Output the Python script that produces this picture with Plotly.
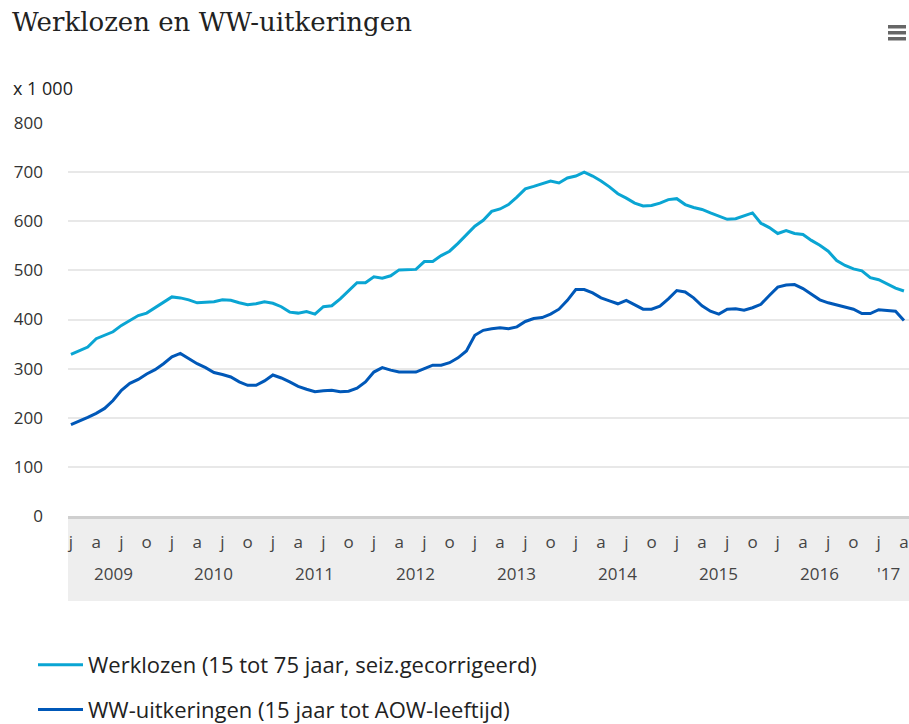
import plotly.graph_objects as go

# ---------------- data ----------------
start_year = 2009
n_months = 100  # Jan 2009 .. Apr 2017
month_letters = ["j", "a", "j", "o"]          # quarterly tick letters (jan, apr, jul, okt)
year_labels = ["2009", "2010", "2011", "2012", "2013", "2014", "2015", "2016", "'17"]

werklozen = [329, 336, 344, 361, 368, 375, 388, 398, 408, 413, 424, 436,
             446, 444, 440, 434, 435, 436, 440, 439, 434, 430, 432, 436,
             433, 426, 415, 413, 416, 411, 426, 428, 442, 459, 475, 475,
             487, 484, 489, 501, 502, 502, 518, 518, 530, 539, 555, 573,
             590, 602, 620, 625, 634, 649, 666, 671, 676, 682, 678, 688,
             692, 700, 692, 682, 670, 656, 647, 637, 631, 632, 637, 644,
             646, 634, 628, 624, 617, 611, 604, 605, 611, 617, 596, 587,
             575, 581, 575, 573, 561, 551, 539, 520, 510, 503, 499, 485,
             481, 473, 464, 458]

ww_uitkeringen = [186, 193, 201, 209, 219, 235, 256, 270, 278, 289, 298, 310,
                  324, 331, 321, 310, 302, 292, 288, 283, 273, 266, 266, 275,
                  287, 281, 273, 264, 258, 253, 255, 256, 253, 254, 260, 273,
                  293, 302, 297, 293, 293, 293, 300, 307, 307, 312, 322, 336,
                  368, 378, 381, 383, 381, 385, 396, 402, 404, 411, 421, 439,
                  461, 461, 454, 444, 438, 432, 439, 430, 421, 421, 427, 442,
                  459, 456, 444, 428, 417, 411, 421, 422, 419, 424, 431, 449,
                  466, 470, 471, 463, 451, 440, 434, 430, 426, 421, 412, 412,
                  420, 419, 417, 398]

series_names = ["Werklozen (15 tot 75 jaar, seiz.gecorrigeerd)",
                "WW-uitkeringen (15 jaar tot AOW-leeftijd)"]
series_colors = ["#0aa5d3", "#0058b8"]

months = list(range(n_months))
tick_vals = months[::3]
tick_text = [month_letters[i % 4] for i in range(len(tick_vals))]

# ---------------- layout helpers (pixel -> paper / container) ----------------
W, H = 909, 724
PL, PR, PT, PB = 68, 909, 123, 516


def px(x):
    return (x - PL) / (PR - PL)


def py(y):
    return (PB - y) / (PB - PT)


fig = go.Figure()
for name, vals, col, grp in zip(series_names, [werklozen, ww_uitkeringen], series_colors, ["a", "b"]):
    fig.add_trace(go.Scatter(x=months, y=vals, mode="lines", name=name,
                             legendgroup=grp,
                             line=dict(color=col, width=3), hoverinfo="x+y"))

shapes = [
    dict(type="rect", xref="paper", yref="paper", x0=0, x1=1, y0=py(601), y1=py(516),
         fillcolor="#eeeeee", line=dict(width=0), layer="below"),
]
# hamburger menu icon
for yy in (25, 31, 37):
    shapes.append(dict(type="rect", xref="paper", yref="paper",
                       x0=px(888), x1=px(906), y0=py(yy + 3.5), y1=py(yy),
                       fillcolor="#666666", line=dict(width=0)))

annotations = [
    dict(text="x 1 000", xref="paper", yref="paper", x=px(11), y=py(88),
         xanchor="left", yanchor="middle", showarrow=False,
         font=dict(family="Open Sans", size=18, color="#222222")),
]
# year labels under the month letters
for i, lab in enumerate(year_labels):
    xpos = 12 * i + 5 if i < len(year_labels) - 1 else 97.2
    annotations.append(dict(text=lab, xref="x", yref="paper", x=xpos, y=py(573),
                            xanchor="center", yanchor="middle", showarrow=False,
                            font=dict(family="Open Sans", size=17, color="#444444")))

fig.update_layout(
    width=W, height=H,
    margin=dict(l=PL, r=W - PR, t=PT, b=H - PB, autoexpand=False),
    paper_bgcolor="white", plot_bgcolor="white",
    title=dict(text="Werklozen en WW-uitkeringen", x=12 / W, xanchor="left", xref="container",
               y=1 - 22 / H, yanchor="middle", yref="container",
               font=dict(family="DejaVu Serif", size=26, color="#222222")),
    xaxis=dict(range=[-0.35, 99.6], tickvals=tick_vals, ticktext=tick_text,
               showgrid=False, zeroline=False, showline=True, linecolor="#cfcfcf", linewidth=3,
               ticks="", ticklabelstandoff=9, ticklabeloverflow="allow",
               tickfont=dict(family="Open Sans", size=17, color="#444444"), fixedrange=True),
    yaxis=dict(range=[0, 800], dtick=100, showgrid=True, gridcolor="#e8e8e8", gridwidth=2,
               zeroline=False, ticks="", ticklabelstandoff=24,
               tickfont=dict(family="Open Sans", size=17, color="#333333"), fixedrange=True),
    showlegend=True,
    legend=dict(orientation="v", xref="container", yref="container",
                x=33 / W, xanchor="left", y=1 - 644 / H, yanchor="top",
                font=dict(family="Open Sans", size=22, color="#222222"),
                tracegroupgap=13, itemwidth=45, bgcolor="rgba(0,0,0,0)"),
    shapes=shapes,
    annotations=annotations,
)

fig.write_html("out.html", config={"displayModeBar": False},
               post_script="document.body.style.margin='0';"
                           "document.documentElement.style.overflow='hidden';")
